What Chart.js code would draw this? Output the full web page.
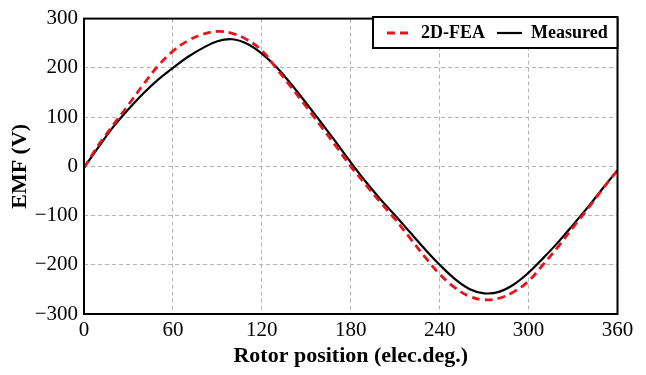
<!DOCTYPE html>
<html>
<head>
<meta charset="utf-8">
<script src="https://cdn.jsdelivr.net/npm/chart.js@4/dist/chart.umd.min.js"></script>
<style>
  html, body { margin: 0; padding: 0; background: #fff; }
  #wrap { width: 646px; height: 375px; }
</style>
</head>
<body>
<div id="wrap"><canvas id="emfChart" width="646" height="375"></canvas></div>
<script>
// rotor position (elec. deg.)
const angles = [0, 10, 20, 30, 40, 50, 60, 70, 80, 90, 100, 110, 120, 130, 140, 150, 160, 170, 180,
  190, 200, 210, 220, 230, 240, 250, 260, 270, 280, 290, 300, 310, 320, 330, 340, 350, 360];

// back EMF (V)
const feaEmf = [-3, 44, 85, 125, 166, 204, 234, 255, 268, 274, 270, 257, 235, 198, 160, 121, 81, 41, 0,
  -37, -73, -108, -146, -184, -219, -246, -264, -271, -268, -255, -233, -199, -163, -124, -86, -46, -8];
const measuredEmf = [-3, 40, 81, 116, 148, 176, 200, 222, 240, 254, 258, 249, 229, 201, 166, 128, 89, 49, 8,
  -31, -67, -100, -134, -168, -200, -228, -249, -258, -255, -240, -216, -186, -154, -119, -83, -45, -8];

const xTicks = [0, 60, 120, 180, 240, 300, 360];
const yTicks = [-300, -200, -100, 0, 100, 200, 300];

const serif = "'Liberation Serif', 'Times New Roman', serif";

function toPoints(ys) {
  return angles.map((a, i) => ({ x: a, y: ys[i] }));
}

// frame around the plot + legend box in the top right corner
const boxAndLegend = {
  id: "boxAndLegend",
  afterDraw(chart) {
    const ctx = chart.ctx;
    const a = chart.chartArea;
    ctx.save();
    ctx.strokeStyle = "#000";
    ctx.lineWidth = 2;
    ctx.setLineDash([]);
    ctx.strokeRect(a.left, a.top, a.right - a.left, a.bottom - a.top);

    // legend
    const bx = 373, by = 17, bw = a.right - bx, bh = 31;
    ctx.fillStyle = "#fff";
    ctx.fillRect(bx, by, bw, bh);
    ctx.lineWidth = 2;
    ctx.strokeRect(bx, by, bw, bh);

    ctx.font = "bold 18px " + serif;
    ctx.textBaseline = "middle";
    const cy = by + bh / 2 + 0.5;
    let x = bx + 14;
    chart.data.datasets.forEach((ds) => {
      ctx.strokeStyle = ds.borderColor;
      ctx.lineWidth = ds.borderWidth;
      ctx.setLineDash(ds.borderDash || []);
      ctx.beginPath();
      ctx.moveTo(x, cy);
      ctx.lineTo(x + 25, cy);
      ctx.stroke();
      ctx.setLineDash([]);
      ctx.fillStyle = "#000";
      ctx.fillText(ds.label, x + 34, cy);
      x += 34 + ctx.measureText(ds.label).width + 12;
    });
    ctx.restore();
  },
};

new Chart(document.getElementById("emfChart"), {
  type: "line",
  data: {
    datasets: [
      {
        label: "2D-FEA",
        data: toPoints(feaEmf),
        borderColor: "#e8141c",
        borderWidth: 2.8,
        borderDash: [8, 5],
        pointRadius: 0,
        tension: 0.4,
        fill: false,
      },
      {
        label: "Measured",
        data: toPoints(measuredEmf),
        borderColor: "#000000",
        borderWidth: 2.2,
        pointRadius: 0,
        tension: 0.4,
        fill: false,
      },
    ],
  },
  options: {
    responsive: false,
    animation: false,
    layout: { padding: { left: 0, right: 28.5, top: 15.5, bottom: 0 } },
    plugins: {
      legend: { display: false },
      tooltip: { enabled: false },
    },
    scales: {
      x: {
        type: "linear",
        min: 0,
        max: 360,
        afterBuildTicks: (axis) => { axis.ticks = xTicks.map((v) => ({ value: v })); },
        afterFit: (axis) => { axis.height = 61; },
        grid: {
          color: "#b5b5b5",
          lineWidth: 1,
          drawTicks: false,
        },
        border: { display: false, dash: [4, 3] },
        ticks: {
          color: "#000",
          padding: 4,
          maxRotation: 0,
          font: { family: serif, size: 21 },
        },
        title: {
          display: true,
          text: "Rotor position (elec.deg.)",
          color: "#000",
          padding: { top: 0, bottom: 5 },
          font: { family: serif, size: 22, weight: "bold" },
        },
      },
      y: {
        min: -300,
        max: 300,
        afterBuildTicks: (axis) => { axis.ticks = yTicks.map((v) => ({ value: v })); },
        afterFit: (axis) => { axis.width = 84; },
        grid: {
          color: "#b5b5b5",
          lineWidth: 1,
          drawTicks: false,
        },
        border: { display: false, dash: [4, 3] },
        ticks: {
          color: "#000",
          padding: 6,
          font: { family: serif, size: 21 },
          callback: (v) => String(v).replace("-", "\u2212"),
        },
        title: {
          display: true,
          text: "EMF (V)",
          color: "#000",
          padding: { top: 7, bottom: 0 },
          font: { family: serif, size: 22, weight: "bold" },
        },
      },
    },
  },
  plugins: [boxAndLegend],
});
</script>
</body>
</html>
